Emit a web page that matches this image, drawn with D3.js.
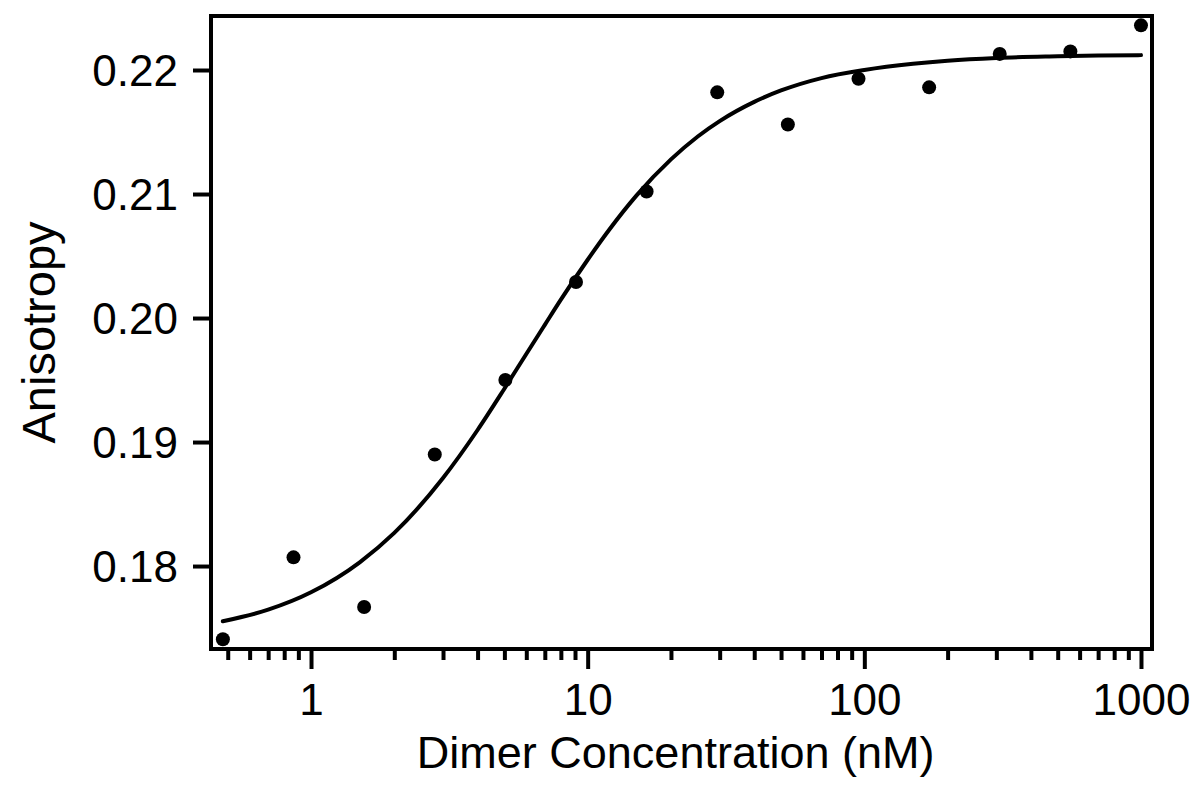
<!DOCTYPE html>
<html>
<head>
<meta charset="utf-8">
<script src="https://cdn.jsdelivr.net/npm/d3@7"></script>
<style>
    body { margin: 0; background: #fff; }
    svg { display: block; font-family: "Liberation Sans", Arial, sans-serif; }
</style>
</head>
<body>
<div class="chart"></div>
<script>
// measured points (dimer concentration in nM, anisotropy)
const concentration = [0.4802, 0.8644, 1.556, 2.801, 5.041, 9.074, 16.33, 29.40, 52.92, 95.26, 171.5, 308.6, 555.6, 1000];
const anisotropy = [0.1741, 0.1807, 0.1767, 0.1890, 0.1950, 0.2029, 0.2102, 0.2182, 0.2156, 0.2193, 0.2186, 0.2213, 0.2215, 0.2236];

// fitted curve
const fitX = [0.48, 0.7, 1, 1.5, 2, 3, 4, 5, 6, 7, 8, 10, 12, 15, 20, 25, 30, 40, 50, 70, 100, 150, 200, 300, 500, 700, 1000];
const fitY = [0.17555, 0.17648, 0.17788, 0.18030, 0.18267, 0.18710, 0.19097, 0.19430, 0.19710, 0.19945, 0.20148, 0.20470, 0.20716, 0.20987,
    0.21279, 0.21464, 0.21588, 0.21743, 0.21835, 0.21935, 0.22000, 0.22050, 0.22075, 0.22097, 0.22110, 0.22116, 0.22120];

const xMajor = [1, 10, 100, 1000];
const xMinor = [0.5, 0.6, 0.7, 0.8, 0.9, 2, 3, 4, 5, 6, 7, 8, 9, 20, 30, 40, 50, 60, 70, 80, 90, 200, 300, 400, 500, 600, 700, 800, 900];
const yTicks = [0.18, 0.19, 0.20, 0.21, 0.22];

const W = 1198, H = 786;
const margin = { top: 16, right: 46, bottom: 137, left: 211 };
const width = W - margin.left - margin.right;
const height = H - margin.top - margin.bottom;

const svg = d3.select(".chart").append("svg")
    .attr("width", W)
    .attr("height", H);

const g = svg.append("g")
    .attr("transform", `translate(${margin.left},${margin.top})`);

const x = d3.scaleLog()
    .domain([0.435, 1096])
    .range([0, width]);

const y = d3.scaleLinear()
    .domain([0.17331, 0.224355])
    .range([height, 0]);

// minor x ticks
g.append("g")
    .attr("transform", `translate(0,${height})`)
    .call(d3.axisBottom(x).tickValues(xMinor).tickSize(11).tickFormat(""))
    .call(a => a.select(".domain").remove())
    .call(a => a.selectAll("line").attr("stroke", "#000").attr("stroke-width", 4));

// major x ticks
const xAxis = g.append("g")
    .attr("transform", `translate(0,${height})`)
    .call(d3.axisBottom(x).tickValues(xMajor).tickSize(20).tickFormat(d3.format("d")))
    .call(a => a.select(".domain").remove());
xAxis.selectAll("line").attr("stroke", "#000").attr("stroke-width", 4);
xAxis.selectAll("text")
    .attr("y", 66)
    .attr("dy", null)
    .attr("fill", "#000")
    .style("font-size", "44px");

// y ticks
const yAxis = g.append("g")
    .call(d3.axisLeft(y).tickValues(yTicks).tickSize(18).tickPadding(15).tickFormat(d3.format(".2f")))
    .call(a => a.select(".domain").remove());
yAxis.selectAll("line").attr("stroke", "#000").attr("stroke-width", 4);
yAxis.selectAll("text")
    .attr("fill", "#000")
    .attr("dy", "0.36em")
    .style("font-size", "44px");

// fit line
const line = d3.line()
    .x((d, i) => x(fitX[i]))
    .y(d => y(d))
    .curve(d3.curveMonotoneX);

g.append("path")
    .datum(fitY)
    .attr("fill", "none")
    .attr("stroke", "#000")
    .attr("stroke-width", 4)
    .attr("stroke-linecap", "round")
    .attr("d", line);

// data points
g.selectAll("circle")
    .data(concentration)
    .join("circle")
    .attr("cx", d => x(d))
    .attr("cy", (d, i) => y(anisotropy[i]))
    .attr("r", 7)
    .attr("fill", "#000");

// frame
g.append("rect")
    .attr("width", width)
    .attr("height", height)
    .attr("fill", "none")
    .attr("stroke", "#000")
    .attr("stroke-width", 4);

// axis titles
svg.append("text")
    .attr("x", margin.left + x(10) + 88)
    .attr("y", 768)
    .attr("text-anchor", "middle")
    .style("font-size", "45px")
    .text("Dimer Concentration (nM)");

svg.append("text")
    .attr("transform", `translate(55,${margin.top + height / 2}) rotate(-90)`)
    .attr("text-anchor", "middle")
    .style("font-size", "47px")
    .text("Anisotropy");
</script>
</body>
</html>
